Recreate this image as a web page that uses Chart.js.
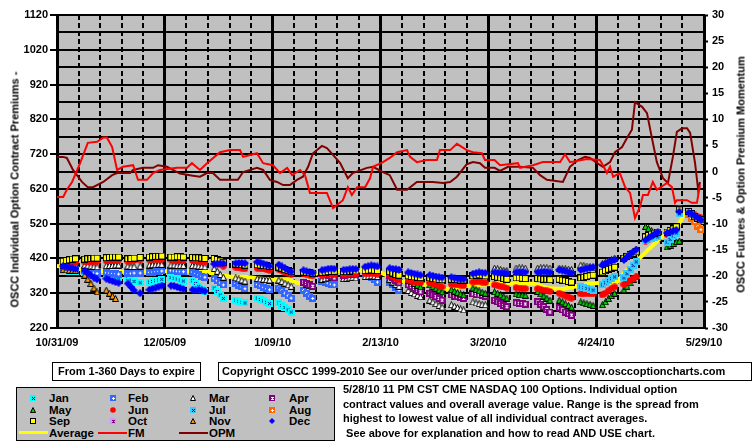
<!DOCTYPE html>
<html>
<head>
<meta charset="utf-8">
<script src="https://cdn.jsdelivr.net/npm/chart.js@4.4.1/dist/chart.umd.min.js"></script>
<style>
  body { margin: 0; background: #fff; font-family: "Liberation Sans", Arial, sans-serif; font-weight: bold; color: #000; }
  #wrap { position: relative; width: 755px; height: 446px; overflow: hidden; }
  #chart { position: absolute; left: 0; top: 0; }
  .ytitle { position: absolute; width: 300px; height: 13px; text-align: center; font-size: 11px; line-height: 13px; transform: rotate(-90deg); white-space: nowrap; }
  .box { position: absolute; border: 1px solid #000; font-size: 11px; line-height: 17px; white-space: nowrap; box-sizing: border-box; }
  #legend { position: absolute; left: 16px; top: 387px; width: 319px; height: 54px; background: #c0c0c0; border: 1px solid #000; box-sizing: border-box; }
  .li { position: absolute; font-size: 11.5px; line-height: 12px; white-space: nowrap; }
  #legend canvas { position: absolute; }
  #notes { position: absolute; left: 343px; top: 382px; font-size: 11px; line-height: 14.5px; white-space: pre; }
</style>
</head>
<body>
<div id="wrap">
  <canvas id="chart" width="755" height="446"></canvas>
  <div class="ytitle" style="left:-135px; top:183px;">OSCC Individual Option Contract Premiums -</div>
  <div class="ytitle" style="left:591px; top:168px;">OSCC Futures &amp; Option Premium Momentum</div>
  <div class="box" style="left:52px; top:362px; width:149px; height:19px; text-align:center;">From 1-360 Days to expire</div>
  <div class="box" style="left:218px; top:362px; width:534px; height:19px; padding-left:3px;">Copyright OSCC 1999-2010 See our over/under priced option charts www.osccoptioncharts.com</div>
  <div id="legend"></div>
  <div id="notes">5/28/10 11 PM CST CME NASDAQ 100 Options. Individual option
contract values and overall average value. Range is the spread from
highest to lowest value of all individual contract averages.
 See above for explanation and how to read AND USE chart.</div>
</div>
<script>
// x axis: days after 10/31/09, a label every 35 days, a dashed line every 7
const dateLabels = ["10/31/09", "12/05/09", "1/09/10", "2/13/10", "3/20/10", "4/24/10", "5/29/10"];
const weekCount = 30;

// contract premiums, one value per trading day (Mon-Fri), rows of one week, starting at week *Start
const janStart = 0;
const janValues = [
  385,384,383,382,382, 380,378,377,376,375, 378,375,371,367,364, 362,358,354,null,350,
  352,354,356,358,360, 365,363,361,358,355, 356,348,340,332,324, 335,325,315,305,null,
  300,297,294,292,null, 306,302,298,294,290, 292,285,279,272,266
];
const febStart = 0;
const febValues = [
  390,389,388,388,387, 386,383,380,378,377, 379,378,377,376,375, 377,377,378,null,378,
  380,381,382,383,384, 385,384,383,382,382, 381,377,373,369,366, 362,356,350,344,null,
  348,343,338,333,null, 345,341,337,333,330, 335,328,320,313,306, null,328,320,312,305,
  355,352,349,346,344, 372,373,374,372,370, 378,372,366,359,352, null,352,345,337,329
];
const marStart = 0;
const marValues = [
  400,400,401,401,401, 400,399,398,397,396, 399,400,400,401,401, 398,397,397,null,398,
  401,402,402,403,403, 401,401,400,400,400, 400,399,398,397,396, 391,383,374,366,null,
  364,361,358,355,null, 362,361,360,359,358, 358,354,349,344,340, null,350,346,342,338,
  360,362,364,365,364, 362,363,364,365,364, 368,369,370,369,368, null,360,352,345,340,
  328,322,318,314,310, 300,295,290,285,280, 287,283,279,275,272, 295,292,290,288,287,
  392,390,388,386,385, 392,393,393,392,null, 392,393,394,393,392, 392,391,390,389,388,
  401,399,398,396,393, 405,409,413,417,421, 420,427,434,440,446, 478,483,487,491,494,
  494,497,500,505,555, 552,546,540,534,530
];
const aprStart = 11;
const aprValues = [
  null,352,348,344,340, 378,376,372,368,364, 372,374,375,376,375, 385,386,385,384,383,
  null,372,365,357,350, 344,339,334,329,324, 320,315,310,305,300, 315,312,310,308,305,
  318,316,315,314,312, 300,295,290,285,281, 292,291,290,289,null, 295,288,281,273,266,
  278,272,266,261,257
];
const mayStart = 16;
const mayValues = [
  358,353,348,343,338, 344,339,334,329,324, 330,326,322,318,315, 335,331,327,323,320,
  324,320,315,310,306, 318,316,315,314,null, 325,318,312,306,300, 300,295,290,285,280,
  295,292,290,288,285, 287,295,305,313,320, 330,340,350,360,367, 512,506,500,496,492,
  453,458,463,468,470
];
const junStart = 0;
const junValues = [
  404,406,407,408,409, 410,410,411,411,412, 413,414,414,415,415, 412,413,414,null,415,
  416,417,418,418,418, 416,415,415,414,414, 414,413,412,411,410, 410,406,402,398,null,
  395,393,392,390,null, 392,391,390,388,386, 388,384,380,377,375, null,376,374,372,370,
  372,373,374,374,373, 374,375,376,376,375, 377,378,378,377,375, null,372,368,363,358,
  358,355,353,351,350, 350,347,344,341,338, 346,345,344,343,342, 352,353,354,352,350,
  344,342,340,338,335, 336,335,334,333,null, 333,331,329,327,325, 320,316,312,309,306,
  318,318,319,318,318, 315,320,327,333,338, 345,351,357,362,367, 470,475,480,484,488,
  488,492,496,500,565, 555,550,545,540,537
];
const julStart = 24;
const julValues = [
  338,336,334,332,329, 344,350,356,362,367, 364,376,388,400,410, 473,476,478,480,482,
  467,475,485,493,548, 550,545,540,535,530
];
const augStart = 29;
const augValues = [545,535,525,512,503];
const sepStart = 0;
const sepValues = [
  412,414,416,418,419, 418,419,420,421,421, 422,423,424,424,424, 419,420,421,null,423,
  424,425,426,426,427, 424,424,425,425,424, 423,422,422,421,420, 420,417,413,409,null,
  404,403,402,401,null, 402,401,400,399,397, 395,392,388,385,382, null,381,380,379,378,
  380,381,382,383,383, 382,382,383,384,384, 385,386,387,386,385, null,382,378,374,372,
  370,368,367,366,365, 364,362,361,360,359, 360,360,359,358,358, 370,372,373,372,370,
  368,366,364,362,360, 364,364,363,362,null, 362,361,360,360,359, 360,358,356,354,352,
  364,366,368,370,372, 381,385,389,392,395, 421,426,431,435,439, 482,486,490,493,496,
  496,500,505,511,560, 555,548,540,535,531
];
const octStart = 0;
const octValues = [];
const novStart = 0;
const novValues = [388,387,386,386,385, 372,360,348,335,324, 329,320,312,305,null];
const decStart = 0;
const decValues = [
  398,396,394,392,390, 385,378,371,365,360, 362,358,355,352,350, 348,338,328,null,320,
  330,333,336,339,342, 342,341,338,335,332, 330,328,330,328,326, 404,405,406,406,null,
  406,407,407,406,null, 410,408,405,402,398, 402,397,392,386,382, null,386,383,381,379,
  386,388,390,391,390, 387,388,389,390,389, 396,398,400,399,397, null,392,390,389,388,
  380,378,376,374,372, 372,370,368,366,365, 366,364,362,361,360, 376,378,380,379,378,
  380,379,378,378,377, 380,381,381,380,null, 380,381,382,381,380, 387,385,383,380,378,
  387,389,391,393,395, 401,405,409,413,416, 416,424,432,439,445, 473,479,485,491,496,
  493,496,500,502,555, 552,548,542,536,531
];

// overall average (left axis)
const avgDays = [0,1.6,6,10.7,21.4,33,42,48.7,50.6,56,61.7,70,75.6,78,80.5,83,85,92,98,105,111,118,126.6,133,141.5,154.5,160,164,167.5,173,181.8,184,189,196,200.6,203.8,209];
const avgValues = [398,397,392,385,382,383,384,384,376,368,367,358,358,350,346,372,380,384,386,380,355,347,332,341,347,347,334,332,338,348,352,378,420,480,500,550,528];

// futures momentum and option premium momentum (right axis)
const fmDays = [0,2,3.2,4.9,7.5,10,13,15,16.2,17.9,19.5,21.4,24.7,26.3,29.2,31.2,33.4,39,42.2,43.8,46.4,48.7,52.9,56.2,59.4,60.4,64.9,66.9,70.1,72.4,74.7,76.3,78.9,80.5,82.1,87.6,89.6,92.8,94.4,95.7,97.4,100,101.6,102.6,105.8,108,110.4,113.6,114.6,116.8,120,123.3,124.3,127.6,129.8,133,135,137.9,138.9,142,143.8,149.6,150.3,154.5,157.7,163.3,164.9,166.5,172,176.2,177.2,178.5,179.5,180.5,182.7,184.4,186,187.6,189.2,190.2,191.8,193.4,194.7,198,199.6,200.6,201.2,204.5,206,207.7,208.7];
const fmValues = [-4.9,-4.9,-3.5,-2,1.6,5.5,5.7,6.5,6.5,4.7,0.3,0.9,1.2,-1.6,-1.6,-0.3,0.3,0.7,0.7,1.6,0.3,1.6,3.7,4.1,4.1,2.8,3.5,1.6,1.2,-0.3,0.7,-0.7,0.3,-0.7,-4.1,-4.1,-7,-5.5,-3,-4.5,-3,-3,-1.3,0.9,1.8,2.6,3.7,4.1,2.8,1.8,2.2,2.2,4.1,4.1,5.3,4.1,3.7,3.5,2.2,2.2,1.2,1.6,0.7,1.2,1.8,1.8,3.3,1.8,2.4,2.2,1.2,-0.3,0.9,-1,-0.3,-3,-4.1,-8.9,-6.8,-4.5,-4.5,-2,-3.5,-2.2,-3,-6,-5.5,-5.5,-6,-6,-2.6];
const opmDays = [0,2,3.2,5.2,8.1,10,11.7,15,17.9,19.5,23.7,24.7,27.9,31.2,32.8,35.7,39.9,44.1,46.4,48.7,50.6,52.9,58.7,60.4,64.9,66.9,69.1,71.4,73.4,75.6,77.9,79.8,81.5,83.1,86,87.6,89.6,91.9,94.4,96,100.6,102.6,105.8,108,110.4,113.6,116.8,122,125.3,127.6,129.8,133,135,137.3,138.9,142,143.8,146.4,150.3,154.5,156.8,159,164.2,166.5,169.1,171.4,173,175.3,177.2,179.5,181.1,183.4,185,186.6,187.6,189.9,191.5,193.1,194.7,196.7,198.3,199.9,201.2,202.9,204.5,205.5,207.1,208.1,208.7];
const opmValues = [2.8,2.8,2.6,0.3,-2,-3,-3,-2,-0.7,-0.3,-0.3,0.3,0.7,0.7,1.2,0.9,-0.4,-0.8,-1,-0.3,-0.3,-1.6,-1.6,-0.1,0.7,0.3,-1.6,-2,-2.6,-2.6,-1.6,-1,0.9,3.5,4.9,4.5,3.2,1.6,-1.3,-0.3,0.7,0.9,-0.1,-0.7,-3.5,-3.5,-2,-2,-2.2,-2,-1,1.4,1.8,1.6,0.7,0.7,0.1,0.9,0.9,0.7,-0.7,-1.6,-2,0.9,2.2,2.8,2.6,1.6,0.9,1.8,3.7,4.7,6.4,8,13.3,12.4,11.2,6.4,1.8,-1.3,-2.2,2.8,7.6,8.3,8.3,7.4,1.6,-3.5,-2];

// trading days: Mon-Fri of each week, 10/31/09 is a Saturday
const tradingDays = [];
for (let k = 0; k < weekCount; k++) {
  for (let j = 0; j < 5; j++) tradingDays.push(2 + 7 * k + j);
}

// small marker bitmaps like the old excel ones
function makeMarker(shape, fill, glyph, glyphColor, size) {
  const s = size || (shape === "diamond" ? 8 : 7);
  const c = document.createElement("canvas");
  c.width = s;
  c.height = s;
  const g = c.getContext("2d");
  g.fillStyle = fill;
  g.strokeStyle = "#000";
  g.lineWidth = 1;
  if (shape === "rect") {
    g.fillRect(0, 0, s, s);
    if (glyph === "box") g.strokeRect(0.5, 0.5, s - 1, s - 1);
  } else if (shape === "tri") {
    g.beginPath();
    g.moveTo(s / 2, 0.5);
    g.lineTo(s - 0.5, s - 0.5);
    g.lineTo(0.5, s - 0.5);
    g.closePath();
    g.fill();
    g.stroke();
  } else if (shape === "diamond") {
    g.beginPath();
    g.moveTo(s / 2, 0);
    g.lineTo(s, s / 2);
    g.lineTo(s / 2, s);
    g.lineTo(0, s / 2);
    g.closePath();
    g.fill();
  } else if (shape === "circle") {
    g.beginPath();
    g.arc(s / 2, s / 2, s / 2 - 0.2, 0, Math.PI * 2);
    g.fill();
  }
  const m = Math.floor(s / 2);
  const dots = {
    x: [[m - 1, m - 1], [m + 1, m - 1], [m, m], [m - 1, m + 1], [m + 1, m + 1]],
    plus: [[m, m - 1], [m - 1, m], [m, m], [m + 1, m], [m, m + 1]],
    bar: [[m - 1, m - 1], [m, m - 1], [m + 1, m - 1], [m, m], [m - 1, m + 1], [m, m + 1], [m + 1, m + 1]],
  }[glyph];
  if (dots) {
    g.fillStyle = glyphColor;
    dots.forEach(([px, py]) => g.fillRect(px, py, 1, 1));
  }
  return c;
}

const months = [
  { label: "Jan", values: janValues, start: janStart, m: ["rect", "#00ffff", "x", "#000080"] },
  { label: "Feb", values: febValues, start: febStart, m: ["rect", "#3366ff", "plus", "#ffffff"] },
  { label: "Mar", values: marValues, start: marStart, m: ["tri", "#ffffff"] },
  { label: "Apr", values: aprValues, start: aprStart, m: ["rect", "#800080", "bar", "#ffffff"] },
  { label: "May", values: mayValues, start: mayStart, m: ["tri", "#00cc00"] },
  { label: "Jun", values: junValues, start: junStart, m: ["circle", "#ff0000"] },
  { label: "Jul", values: julValues, start: julStart, m: ["rect", "#33ccff", "x", "#000080"] },
  { label: "Aug", values: augValues, start: augStart, m: ["rect", "#ff6600", "plus", "#ffffff"] },
  { label: "Sep", values: sepValues, start: sepStart, m: ["rect", "#ffff00", "box"] },
  { label: "Oct", values: octValues, start: octStart, m: ["rect", "#cc99ff", "bar", "#800080"] },
  { label: "Nov", values: novValues, start: novStart, m: ["tri", "#ff9900"] },
  { label: "Dec", values: decValues, start: decStart, m: ["diamond", "#0000ff"] },
];

function pts(values, start) {
  const out = [];
  values.forEach((v, i) => {
    if (v !== null) out.push({ x: tradingDays[start * 5 + i], y: v });
  });
  return out;
}

function pairs(days, values) {
  return days.map((d, i) => ({ x: d, y: values[i] }));
}

const datasets = months.map((mo, i) => ({
  label: mo.label,
  data: pts(mo.values, mo.start),
  yAxisID: "y",
  showLine: false,
  pointStyle: makeMarker(mo.m[0], mo.m[1], mo.m[2], mo.m[3]),
  pointRadius: 4,
  order: 14 - i, // later months on top, like the original
}));

datasets.push(
  { label: "Average", data: pairs(avgDays, avgValues), yAxisID: "y", borderColor: "#ffff00", borderWidth: 4, pointRadius: 0, tension: 0, order: 30 },
  { label: "FM", data: pairs(fmDays, fmValues), yAxisID: "y2", borderColor: "#ff0000", borderWidth: 2, pointRadius: 0, tension: 0, order: 0 },
  { label: "OPM", data: pairs(opmDays, opmValues), yAxisID: "y2", borderColor: "#800000", borderWidth: 2, pointRadius: 0, tension: 0, order: 1 }
);

// grey plot area
const plotBg = {
  id: "plotBg",
  beforeDraw(c) {
    const { ctx, chartArea: a } = c;
    ctx.save();
    ctx.fillStyle = "#c0c0c0";
    ctx.fillRect(a.left, a.top, a.right - a.left, a.bottom - a.top);
    ctx.restore();
  },
};

// dashed weekly lines, drawn as short dashes at every 7th day of the x scale
const weekLines = {
  id: "weekLines",
  beforeDatasetsDraw(c) {
    const { ctx, chartArea: a } = c;
    const sc = c.scales.x;
    ctx.save();
    ctx.fillStyle = "#000000";
    for (let d = 7; d < 210; d += 7) {
      if (d % 35 === 0) continue;
      const px = Math.round(sc.getPixelForValue(d)) - 1;
      for (let y = Math.round(a.top); y < a.bottom; y += 8) {
        ctx.fillRect(px, y, 2, Math.min(5, a.bottom - y));
      }
    }
    ctx.restore();
  },
};

Chart.defaults.font.family = '"Liberation Sans", Arial, sans-serif';
Chart.defaults.font.size = 11;
Chart.defaults.font.weight = "bold";
Chart.defaults.color = "#000";

new Chart(document.getElementById("chart"), {
  type: "line",
  data: { datasets },
  plugins: [plotBg, weekLines],
  options: {
    responsive: false,
    animation: false,
    devicePixelRatio: 1,
    layout: { padding: { left: 0, right: 0, top: 15, bottom: 94 } },
    plugins: { legend: { display: false }, tooltip: { enabled: false } },
    scales: {
      x: {
        type: "linear",
        position: "bottom",
        min: 0,
        max: 210,
        afterFit(s) { s.height = 24; },
        ticks: {
          stepSize: 35,
          autoSkip: false,
          maxRotation: 0,
          padding: 8,
          callback: (v) => dateLabels[Math.round(v / 35)],
        },
        grid: { color: "#000", lineWidth: 3, drawTicks: false },
        border: { color: "#000", width: 2 },
      },
      y: {
        position: "left",
        min: 220,
        max: 1120,
        afterFit(s) { s.width = 57; },
        ticks: {
          stepSize: 50,
          padding: 2,
          callback: (v) => ((v - 220) % 100 === 0 ? v : ""),
        },
        grid: {
          color: "#000",
          lineWidth: 2,
          tickLength: 7,
          tickColor: (c) => ((c.tick.value - 220) % 100 === 0 ? "#000" : "rgba(0,0,0,0)"),
        },
        border: { color: "#000", width: 2 },
      },
      y2: {
        position: "right",
        min: -30,
        max: 30,
        afterFit(s) { s.width = 51; },
        ticks: { stepSize: 5, padding: 4 },
        grid: { drawOnChartArea: false, tickLength: 4, tickColor: "#000", tickWidth: 2 },
        border: { color: "#000", width: 2 },
      },
    },
  },
});

// html legend box
const legend = document.getElementById("legend");
const colMarker = [15.5, 96, 176, 255];
const colText = [32, 111, 192, 272];
const rowY = [10, 22, 33, 44.5];
months.forEach((mo, i) => {
  const col = i % 4;
  const row = Math.floor(i / 4);
  const mk = makeMarker(mo.m[0], mo.m[1], mo.m[2], mo.m[3], 6);
  mk.style.left = colMarker[col] - mk.width / 2 + "px";
  mk.style.top = rowY[row] - mk.height / 2 + "px";
  legend.appendChild(mk);
  const t = document.createElement("div");
  t.className = "li";
  t.textContent = mo.label;
  t.style.left = colText[col] + "px";
  t.style.top = rowY[row] - 6 + "px";
  legend.appendChild(t);
});
[["Average", "#ffff00", 3], ["FM", "#ff0000", 2], ["OPM", "#800000", 2]].forEach(([name, color, w], col) => {
  const ln = document.createElement("div");
  ln.style.cssText = `position:absolute;left:${colText[col] - 30}px;top:${rowY[3] - w / 2}px;width:29px;height:${w}px;background:${color};`;
  legend.appendChild(ln);
  const t = document.createElement("div");
  t.className = "li";
  t.textContent = name;
  t.style.left = colText[col] + "px";
  t.style.top = rowY[3] - 6 + "px";
  legend.appendChild(t);
});
</script>
</body>
</html>
